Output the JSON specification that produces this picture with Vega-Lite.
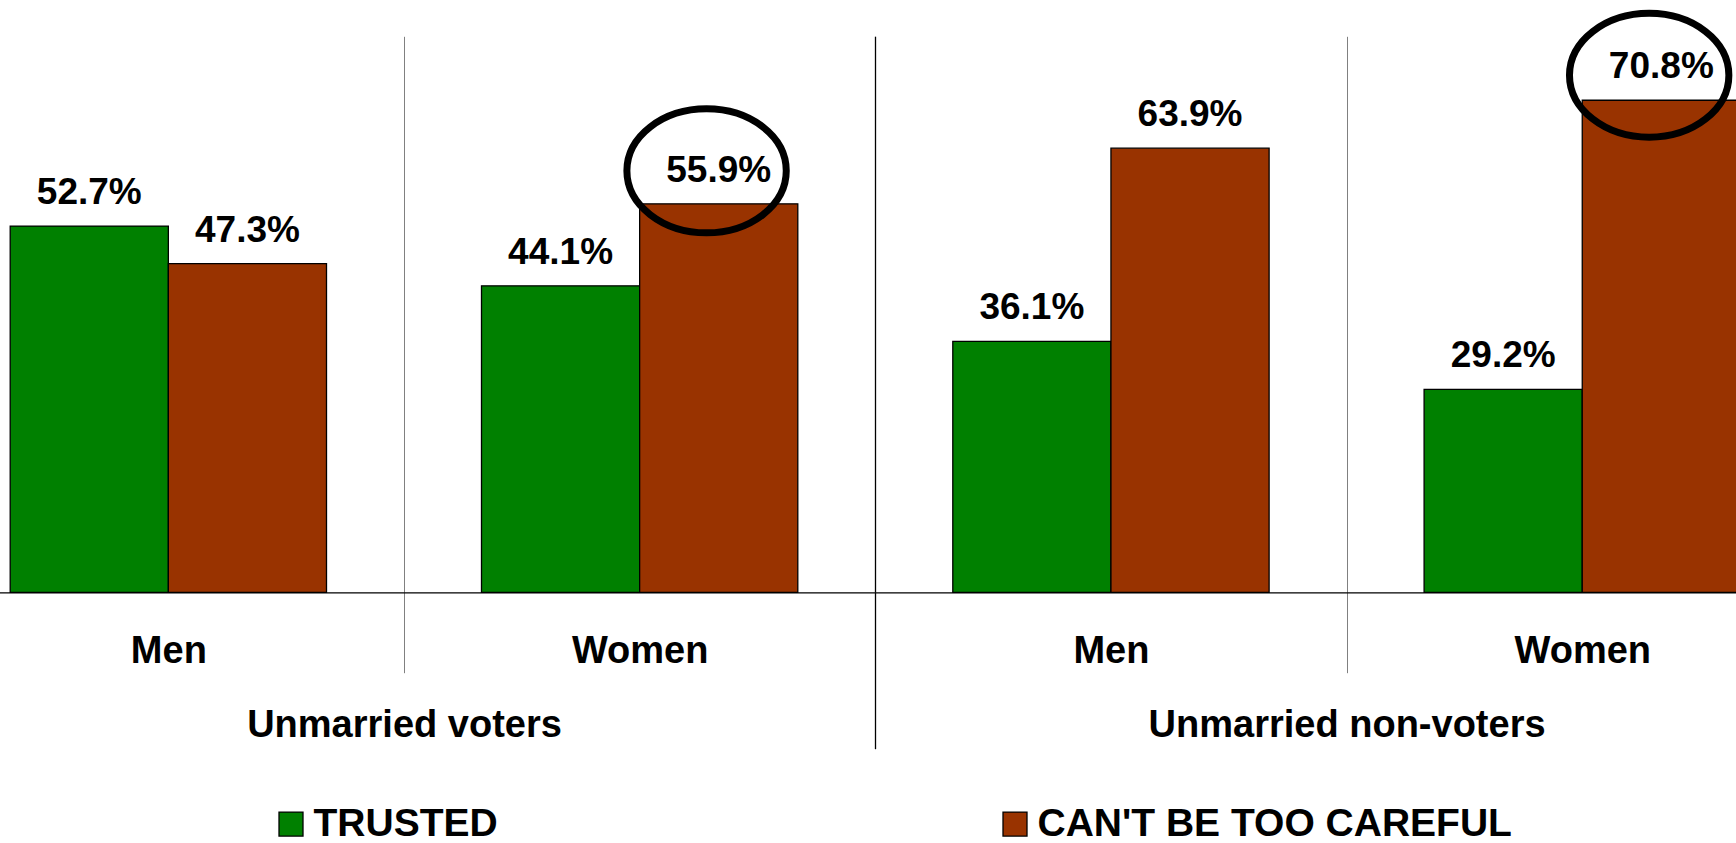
{
  "$schema": "https://vega.github.io/schema/vega-lite/v6.json",
  "width": 1736,
  "height": 556,
  "autosize": {"type": "none"},
  "padding": {"top": 36.3, "left": 0, "right": 0, "bottom": 250.7},
  "background": "white",
  "config": {"view": {"stroke": null}, "font": "Liberation Sans"},
  "data": {
    "values": [
      {"group": "Unmarried voters", "gender": "Men", "cat": "Unmarried voters|Men", "series": "TRUSTED", "value": 52.7},
      {"group": "Unmarried voters", "gender": "Men", "cat": "Unmarried voters|Men", "series": "CAN'T BE TOO CAREFUL", "value": 47.3},
      {"group": "Unmarried voters", "gender": "Women", "cat": "Unmarried voters|Women", "series": "TRUSTED", "value": 44.1},
      {"group": "Unmarried voters", "gender": "Women", "cat": "Unmarried voters|Women", "series": "CAN'T BE TOO CAREFUL", "value": 55.9},
      {"group": "Unmarried non-voters", "gender": "Men", "cat": "Unmarried non-voters|Men", "series": "TRUSTED", "value": 36.1},
      {"group": "Unmarried non-voters", "gender": "Men", "cat": "Unmarried non-voters|Men", "series": "CAN'T BE TOO CAREFUL", "value": 63.9},
      {"group": "Unmarried non-voters", "gender": "Women", "cat": "Unmarried non-voters|Women", "series": "TRUSTED", "value": 29.2},
      {"group": "Unmarried non-voters", "gender": "Women", "cat": "Unmarried non-voters|Women", "series": "CAN'T BE TOO CAREFUL", "value": 70.8}
    ]
  },
  "transform": [{"calculate": "format(datum.value, '.1f') + '%'", "as": "label"}],
  "layer": [
    {
      "encoding": {
        "x": {
          "field": "cat", "type": "nominal",
          "sort": ["Unmarried voters|Men", "Unmarried voters|Women", "Unmarried non-voters|Men", "Unmarried non-voters|Women"],
          "scale": {"type": "band", "range": [-67.3, 1817.9], "paddingInner": 0, "paddingOuter": 0},
          "axis": {
            "title": null, "orient": "bottom",
            "labelExpr": "split(datum.label, '|')[1]",
            "grid": true, "gridColor": "#808080", "gridWidth": 1,
            "tickBand": "extent", "ticks": true, "tickSize": 80.4, "tickColor": "#808080", "tickWidth": 1,
            "domain": true, "domainColor": "black", "domainWidth": 1.3,
            "labelFont": "Liberation Sans", "labelFontSize": 38, "labelFontWeight": "bold", "labelColor": "black",
            "labelAngle": 0, "labelBaseline": "alphabetic", "labelPadding": -10, "labelLimit": 1000
          }
        },
        "y": {
          "field": "value", "type": "quantitative",
          "scale": {"domain": [0, 80], "nice": false, "zero": true},
          "axis": null
        }
      },
      "layer": [
        {
          "mark": {"type": "bar", "stroke": "black", "strokeWidth": 1.3},
          "encoding": {
            "xOffset": {
              "field": "series", "type": "nominal",
              "sort": ["TRUSTED", "CAN'T BE TOO CAREFUL"],
              "scale": {"paddingInner": 0, "paddingOuter": 0.49}
            },
            "color": {
              "field": "series", "type": "nominal",
              "sort": ["TRUSTED", "CAN'T BE TOO CAREFUL"],
              "scale": {"domain": ["TRUSTED", "CAN'T BE TOO CAREFUL"], "range": ["#008000", "#993300"]},
              "legend": {
                "title": null, "orient": "none", "legendX": 271.5, "legendY": 768,
                "direction": "horizontal", "columns": 2, "columnPadding": 497,
                "symbolType": "square", "symbolSize": 576, "symbolStrokeColor": "black", "symbolStrokeWidth": 1.3,
                "labelFont": "Liberation Sans", "labelFontSize": 39, "labelFontWeight": "bold", "labelColor": "black",
                "labelOffset": 3, "labelLimit": 1000
              }
            }
          }
        },
        {
          "mark": {"type": "text", "font": "Liberation Sans", "fontWeight": "bold", "fontSize": 37, "baseline": "alphabetic", "align": "center", "dy": -22, "color": "black"},
          "encoding": {
            "xOffset": {
              "field": "series", "type": "nominal",
              "sort": ["TRUSTED", "CAN'T BE TOO CAREFUL"],
              "scale": {"paddingInner": 0, "paddingOuter": 0.49}
            },
            "text": {"field": "label"}
          }
        },
        {
          "transform": [{"filter": {"and": [{"field": "gender", "equal": "Women"}, {"field": "series", "equal": "CAN'T BE TOO CAREFUL"}]}}],
          "mark": {
            "type": "point", "filled": false, "stroke": "black", "strokeWidth": 7, "opacity": 1,
            "shape": "M -1 0 C -1 -0.43 -0.552 -0.778 0 -0.778 C 0.552 -0.778 1 -0.43 1 0 C 1 0.43 0.552 0.778 0 0.778 C -0.552 0.778 -1 0.43 -1 0 Z",
            "size": 25400,
            "yOffset": {"expr": "datum.value > 65 ? -25 : -33"}
          },
          "encoding": {
            "x": {
              "field": "cat", "type": "nominal", "bandPosition": 0.642,
              "sort": ["Unmarried voters|Men", "Unmarried voters|Women", "Unmarried non-voters|Men", "Unmarried non-voters|Women"]
            }
          }
        }
      ]
    },
    {
      "mark": {"type": "rule", "opacity": 0},
      "encoding": {
        "x": {
          "field": "group", "type": "nominal",
          "sort": ["Unmarried voters", "Unmarried non-voters"],
          "scale": {"type": "band", "range": [-67.3, 1817.9], "paddingInner": 0, "paddingOuter": 0},
          "axis": {
            "title": null, "orient": "bottom",
            "grid": true, "gridColor": "black", "gridWidth": 1.3,
            "tickBand": "extent", "ticks": true, "tickSize": 156.4, "tickColor": "black", "tickWidth": 1.3,
            "domain": false,
            "labelFont": "Liberation Sans", "labelFontSize": 38, "labelFontWeight": "bold", "labelColor": "black",
            "labelAngle": 0, "labelBaseline": "alphabetic", "labelPadding": -12, "labelLimit": 1000
          }
        }
      }
    }
  ],
  "resolve": {"scale": {"x": "independent"}, "axis": {"x": "independent"}}
}
